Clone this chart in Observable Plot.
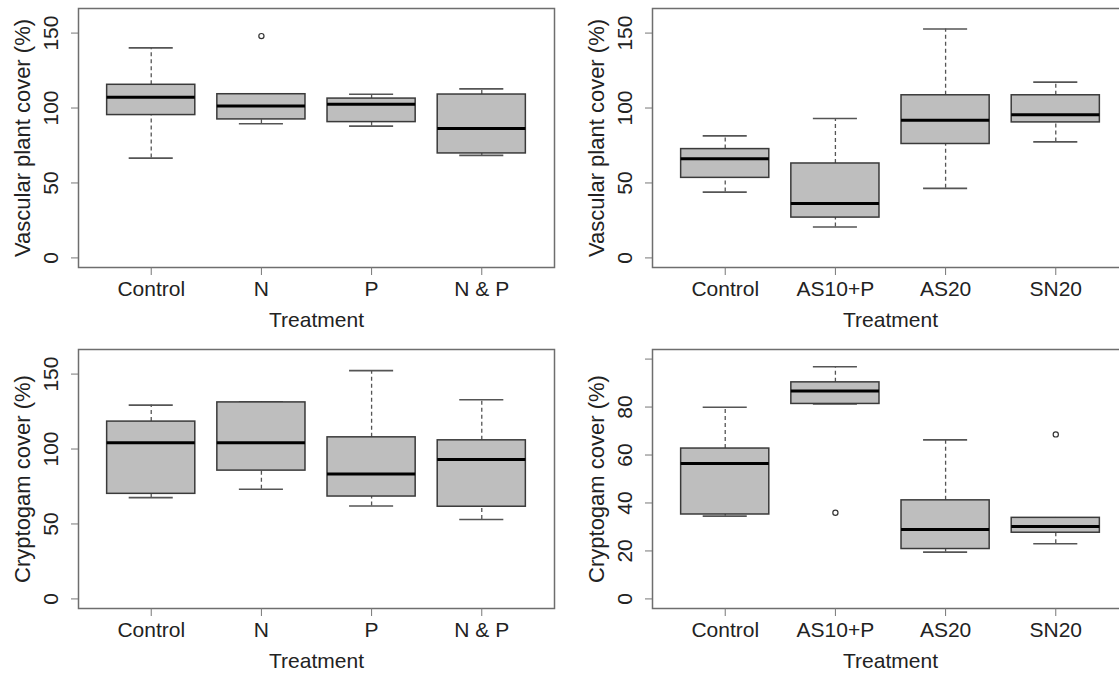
<!DOCTYPE html>
<html><head><meta charset="utf-8">
<script src="https://cdn.jsdelivr.net/npm/d3@7"></script>
<script src="https://cdn.jsdelivr.net/npm/@observablehq/plot@0.6"></script>
<style>
html,body{margin:0;padding:0;background:#fff;overflow:hidden;}
#wrap{position:relative;width:1119px;height:675px;overflow:hidden;background:#fff;}
#wrap>.panel{position:absolute;width:574px;height:341px;}
#wrap svg{max-width:none !important;}
</style></head><body><div id="wrap"></div>
<script>
// ---- categories ----
const treatmentsA = ["Control", "N", "P", "N & P"];
const treatmentsB = ["Control", "AS10+P", "AS20", "SN20"];
const xTitle = "Treatment";

// ---- Panel 1: vascular plant cover, fertiliser treatments ----
const vascA_lo  = [66.6, 89.5, 87.9, 68.4];
const vascA_q1  = [95.3, 92.4, 90.6, 69.7];
const vascA_med = [107.2, 101.3, 102.5, 86.3];
const vascA_q3  = [115.5, 109.2, 106.3, 109.0];
const vascA_hi  = [140.1, 109.2, 109.2, 112.8];
const vascA_outCat = ["N"];
const vascA_outVal = [148];

// ---- Panel 2: vascular plant cover, ammonium/nitrate treatments ----
const vascB_lo  = [43.9, 20.6, 46.4, 77.4];
const vascB_q1  = [53.4, 26.9, 76.0, 90.4];
const vascB_med = [66.1, 36.3, 91.9, 95.5];
const vascB_q3  = [72.6, 63.0, 108.5, 108.5];
const vascB_hi  = [81.4, 93.0, 152.7, 117.3];
const vascB_outCat = [];
const vascB_outVal = [];

// ---- Panel 3: cryptogam cover, fertiliser treatments ----
const cryptA_lo  = [67.6, 73.2, 62.0, 53.0];
const cryptA_q1  = [70.1, 85.6, 68.3, 61.5];
const cryptA_med = [104.2, 104.2, 83.3, 93.0];
const cryptA_q3  = [118.3, 131.1, 107.8, 105.8];
const cryptA_hi  = [129.3, 131.4, 152.3, 132.9];
const cryptA_outCat = [];
const cryptA_outVal = [];

// ---- Panel 4: cryptogam cover, ammonium/nitrate treatments ----
const cryptB_lo  = [34.5, 81.3, 19.5, 23.0];
const cryptB_q1  = [35.2, 81.3, 20.8, 27.6];
const cryptB_med = [56.5, 86.7, 28.9, 30.2];
const cryptB_q3  = [62.7, 90.3, 41.1, 33.8];
const cryptB_hi  = [79.9, 96.8, 66.3, 33.8];
const cryptB_outCat = ["AS10+P", "SN20"];
const cryptB_outVal = [35.9, 68.6];

// ---- axis ticks ----
const yTicks160 = [0, 50, 100, 150];
const yLabels160 = ["0", "50", "100", "150"];
const yTicks100 = [0, 20, 40, 60, 80, 100];
const yLabels100 = ["0", "20", "40", "60", "80", ""];
const yLim160 = [0, 160];
const yLim100 = [0, 100];

function rExtend([a, b]) { const e = (b - a) * 0.04; return [a - e, b + e]; }

function panel(o) {
  const n = o.cats.length;
  const rows = o.cats.map((c, i) => ({cat: c, pos: i + 1, lo: o.lo[i], q1: o.q1[i], med: o.med[i], q3: o.q3[i], hi: o.hi[i]}));
  const outs = o.outCat.map((c, i) => ({pos: o.cats.indexOf(c) + 1, v: o.outVal[i]}));
  const tickData = o.yTicks.map((t, i) => ({t, lab: o.yLabels[i]})).filter(d => d.lab !== "");
  const line = "#555";
  return Plot.plot({
    width: 574, height: 341,
    marginLeft: 78, marginRight: 20, marginTop: 8, marginBottom: 74,
    style: {fontFamily: "'Liberation Sans', Arial, sans-serif", fontSize: "21px", color: "#222", background: "transparent", overflow: "visible"},
    x: {domain: rExtend([0.5, n + 0.5]), axis: null},
    y: {domain: rExtend(o.yLim), axis: null},
    marks: [
      // whiskers
      Plot.ruleX(rows, {x: "pos", y1: "q3", y2: "hi", stroke: line, strokeWidth: 1.3, strokeDasharray: "4,3"}),
      Plot.ruleX(rows, {x: "pos", y1: "lo", y2: "q1", stroke: line, strokeWidth: 1.3, strokeDasharray: "4,3"}),
      // staples
      Plot.ruleY(rows, {y: "hi", x1: d => d.pos - 0.2, x2: d => d.pos + 0.2, stroke: line, strokeWidth: 1.6}),
      Plot.ruleY(rows, {y: "lo", x1: d => d.pos - 0.2, x2: d => d.pos + 0.2, stroke: line, strokeWidth: 1.6}),
      // boxes
      Plot.rect(rows, {x1: d => d.pos - 0.4, x2: d => d.pos + 0.4, y1: "q1", y2: "q3", fill: "#bebebe", stroke: "#3a3a3a", strokeWidth: 1.5}),
      // medians
      Plot.ruleY(rows, {y: "med", x1: d => d.pos - 0.4, x2: d => d.pos + 0.4, stroke: "#000", strokeWidth: 3}),
      // outliers
      Plot.dot(outs, {x: "pos", y: "v", r: 2.6, stroke: "#333", fill: "none", strokeWidth: 1.2}),
      Plot.frame({stroke: "#6e6e6e", strokeWidth: 1.5}),
      // axes
      Plot.axisX({ticks: rows.map(d => d.pos), tickFormat: i => o.cats[i - 1], tickSize: 8, tickPadding: 6, stroke: "#777", fill: "#222", label: null}),
      Plot.axisY(o.yTicks, {tickSize: 7, stroke: "#777", fill: "none", tickFormat: () => "", label: null}),
      Plot.text(tickData, {y: "t", text: "lab", frameAnchor: "left", dx: -27, rotate: -90, textAnchor: "middle", lineAnchor: "middle", fill: "#222"}),
      // titles
      Plot.text([o.yTitle], {text: d => d, frameAnchor: "left", dx: -56, rotate: -90, textAnchor: "middle", lineAnchor: "middle", fill: "#222", fontSize: 22}),
      Plot.text([xTitle], {text: d => d, frameAnchor: "bottom", dy: 53, textAnchor: "middle", lineAnchor: "middle", fill: "#222"})
    ]
  });
}

const specs = [
  {left: 0, top: 0, cats: treatmentsA, lo: vascA_lo, q1: vascA_q1, med: vascA_med, q3: vascA_q3, hi: vascA_hi, outCat: vascA_outCat, outVal: vascA_outVal, yLim: yLim160, yTicks: yTicks160, yLabels: yLabels160, yTitle: "Vascular plant cover (%)"},
  {left: 574, top: 0, cats: treatmentsB, lo: vascB_lo, q1: vascB_q1, med: vascB_med, q3: vascB_q3, hi: vascB_hi, outCat: vascB_outCat, outVal: vascB_outVal, yLim: yLim160, yTicks: yTicks160, yLabels: yLabels160, yTitle: "Vascular plant cover (%)"},
  {left: 0, top: 341, cats: treatmentsA, lo: cryptA_lo, q1: cryptA_q1, med: cryptA_med, q3: cryptA_q3, hi: cryptA_hi, outCat: cryptA_outCat, outVal: cryptA_outVal, yLim: yLim160, yTicks: yTicks160, yLabels: yLabels160, yTitle: "Cryptogam cover (%)"},
  {left: 574, top: 341, cats: treatmentsB, lo: cryptB_lo, q1: cryptB_q1, med: cryptB_med, q3: cryptB_q3, hi: cryptB_hi, outCat: cryptB_outCat, outVal: cryptB_outVal, yLim: yLim100, yTicks: yTicks100, yLabels: yLabels100, yTitle: "Cryptogam cover (%)"}
];

const wrap = document.getElementById("wrap");
for (const s of specs) {
  const div = document.createElement("div");
  div.className = "panel";
  div.style.left = s.left + "px";
  div.style.top = s.top + "px";
  div.appendChild(panel(s));
  wrap.appendChild(div);
}
</script></body></html>
